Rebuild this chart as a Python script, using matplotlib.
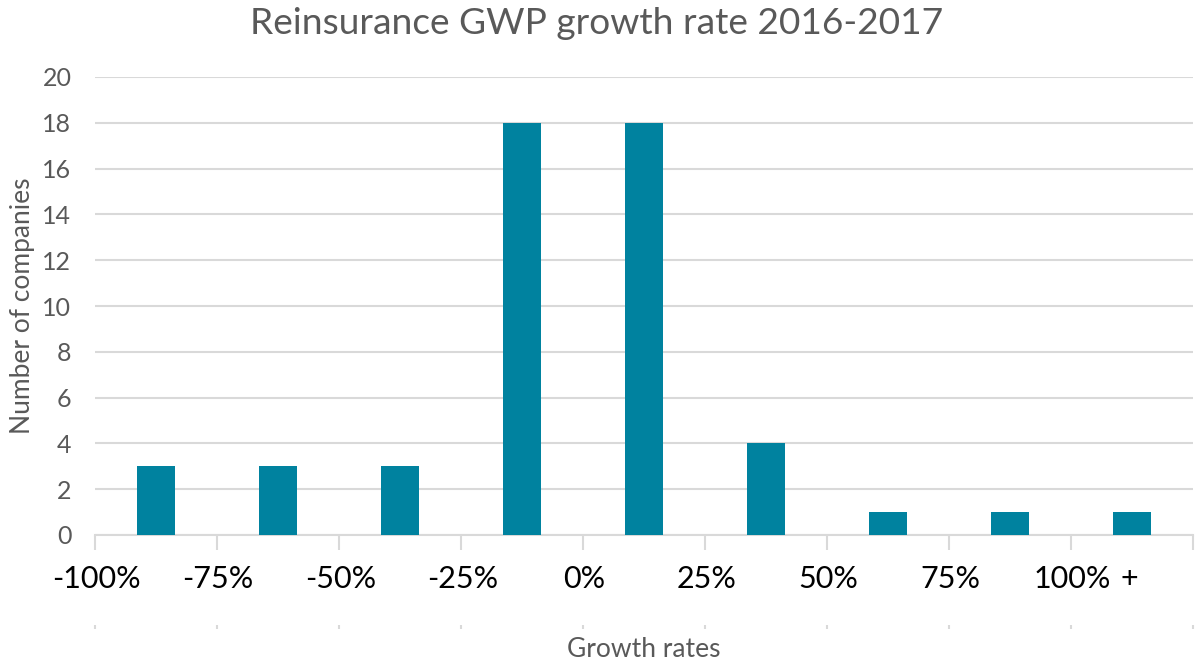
import matplotlib
matplotlib.use("Agg")
import matplotlib.pyplot as plt
import numpy as np

# data
bins = ["-100%", "-75%", "-50%", "-25%", "0%", "25%", "50%", "75%", "100%"]
counts = [3, 3, 3, 18, 18, 4, 1, 1, 1]
yticks = [0, 2, 4, 6, 8, 10, 12, 14, 16, 18, 20]

plt.rcParams["font.family"] = ["Lato", "DejaVu Sans"]
bar_color = "#00829F"
grid_color = "#D9D9D9"
text_grey = "#595959"

fig = plt.figure(figsize=(11.95, 6.63), dpi=100)
ax = fig.add_axes([95 / 1195, 128 / 663, 1098 / 1195, 458 / 663])

x = np.arange(len(counts))
ax.bar(x, counts, width=0.31, color=bar_color, zorder=3)

ax.set_xlim(-0.5, len(counts) - 0.5)
ax.set_ylim(0, 20)
ax.set_yticks(yticks)
ax.yaxis.grid(True, color=grid_color, linewidth=1.5, zorder=0)
ax.tick_params(axis="y", length=0, pad=17, labelsize=18, labelcolor=text_grey)

for s in ["top", "right", "left"]:
    ax.spines[s].set_visible(False)
ax.spines["bottom"].set_color(grid_color)
ax.spines["bottom"].set_linewidth(1.5)

# category boundaries carry the ticks and labels
edges = np.arange(len(counts) + 1) - 0.5
ax.set_xticks(edges)
ax.set_xticklabels([])
ax.tick_params(axis="x", length=11, width=1.5, color=grid_color, direction="out")

trans = ax.get_xaxis_transform()
for i, lab in enumerate(bins):
    ax.text(edges[i] + 0.01, -0.095, lab, transform=trans, ha="center", va="center",
            fontsize=22, color="black")
ax.text(edges[-2] + 0.48, -0.095, "+", transform=trans, ha="center", va="center",
        fontsize=22, color="black")

# second row of small ticks
sec = ax.secondary_xaxis(-0.2)
sec.set_xticks(edges)
sec.set_xticklabels([])
sec.tick_params(axis="x", length=3, width=1.5, color=grid_color, direction="inout")
sec.spines["bottom"].set_visible(False)

ax.text(-0.066, 0.5, "Number of companies", transform=ax.transAxes, rotation=90,
        ha="center", va="center", fontsize=19, color=text_grey)
ax.text(0.5, -0.25, "Growth rates", transform=ax.transAxes, ha="center", va="center",
        fontsize=19, color=text_grey)
fig.text(597 / 1195, 1 - 24 / 663, "Reinsurance GWP growth rate 2016-2017",
         ha="center", va="center", fontsize=26.7, color=text_grey)

fig.savefig("out.png", dpi=100)
